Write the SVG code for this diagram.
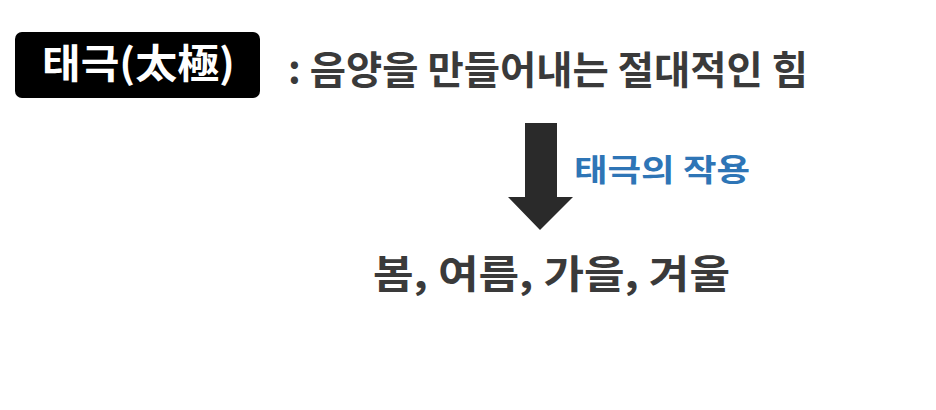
<svg xmlns="http://www.w3.org/2000/svg" width="936" height="410" viewBox="0 0 936 410">
<style>
.t{font-family:"Noto Sans CJK KR","Noto Sans",sans-serif;font-weight:bold}
.dark{fill:#3a3a3a}
</style>
<rect width="936" height="410" fill="#ffffff"/>
<g id="title">
<rect x="15" y="32" width="245" height="66" rx="7" fill="#000000"/>
<text class="t" x="42" y="78" font-size="40" fill="#ffffff" textLength="193" lengthAdjust="spacingAndGlyphs">태극(太極)</text>
</g>
<g id="definition">
<text class="t dark" x="288" y="84" font-size="39" textLength="520" lengthAdjust="spacingAndGlyphs">: 음양을 만들어내는 절대적인 힘</text>
</g>
<g id="connectors">
<polygon points="525,123 557,123 557,197 573,197 540,230 508,197 525,197" fill="#2a2a2a"/>
<text class="t" x="574" y="181" font-size="31" fill="#2e75b6" textLength="176" lengthAdjust="spacingAndGlyphs">태극의 작용</text>
</g>
<g id="seasons">
<text class="t dark" x="373" y="288" font-size="39" textLength="357" lengthAdjust="spacingAndGlyphs">봄, 여름, 가을, 겨울</text>
</g>
</svg>
